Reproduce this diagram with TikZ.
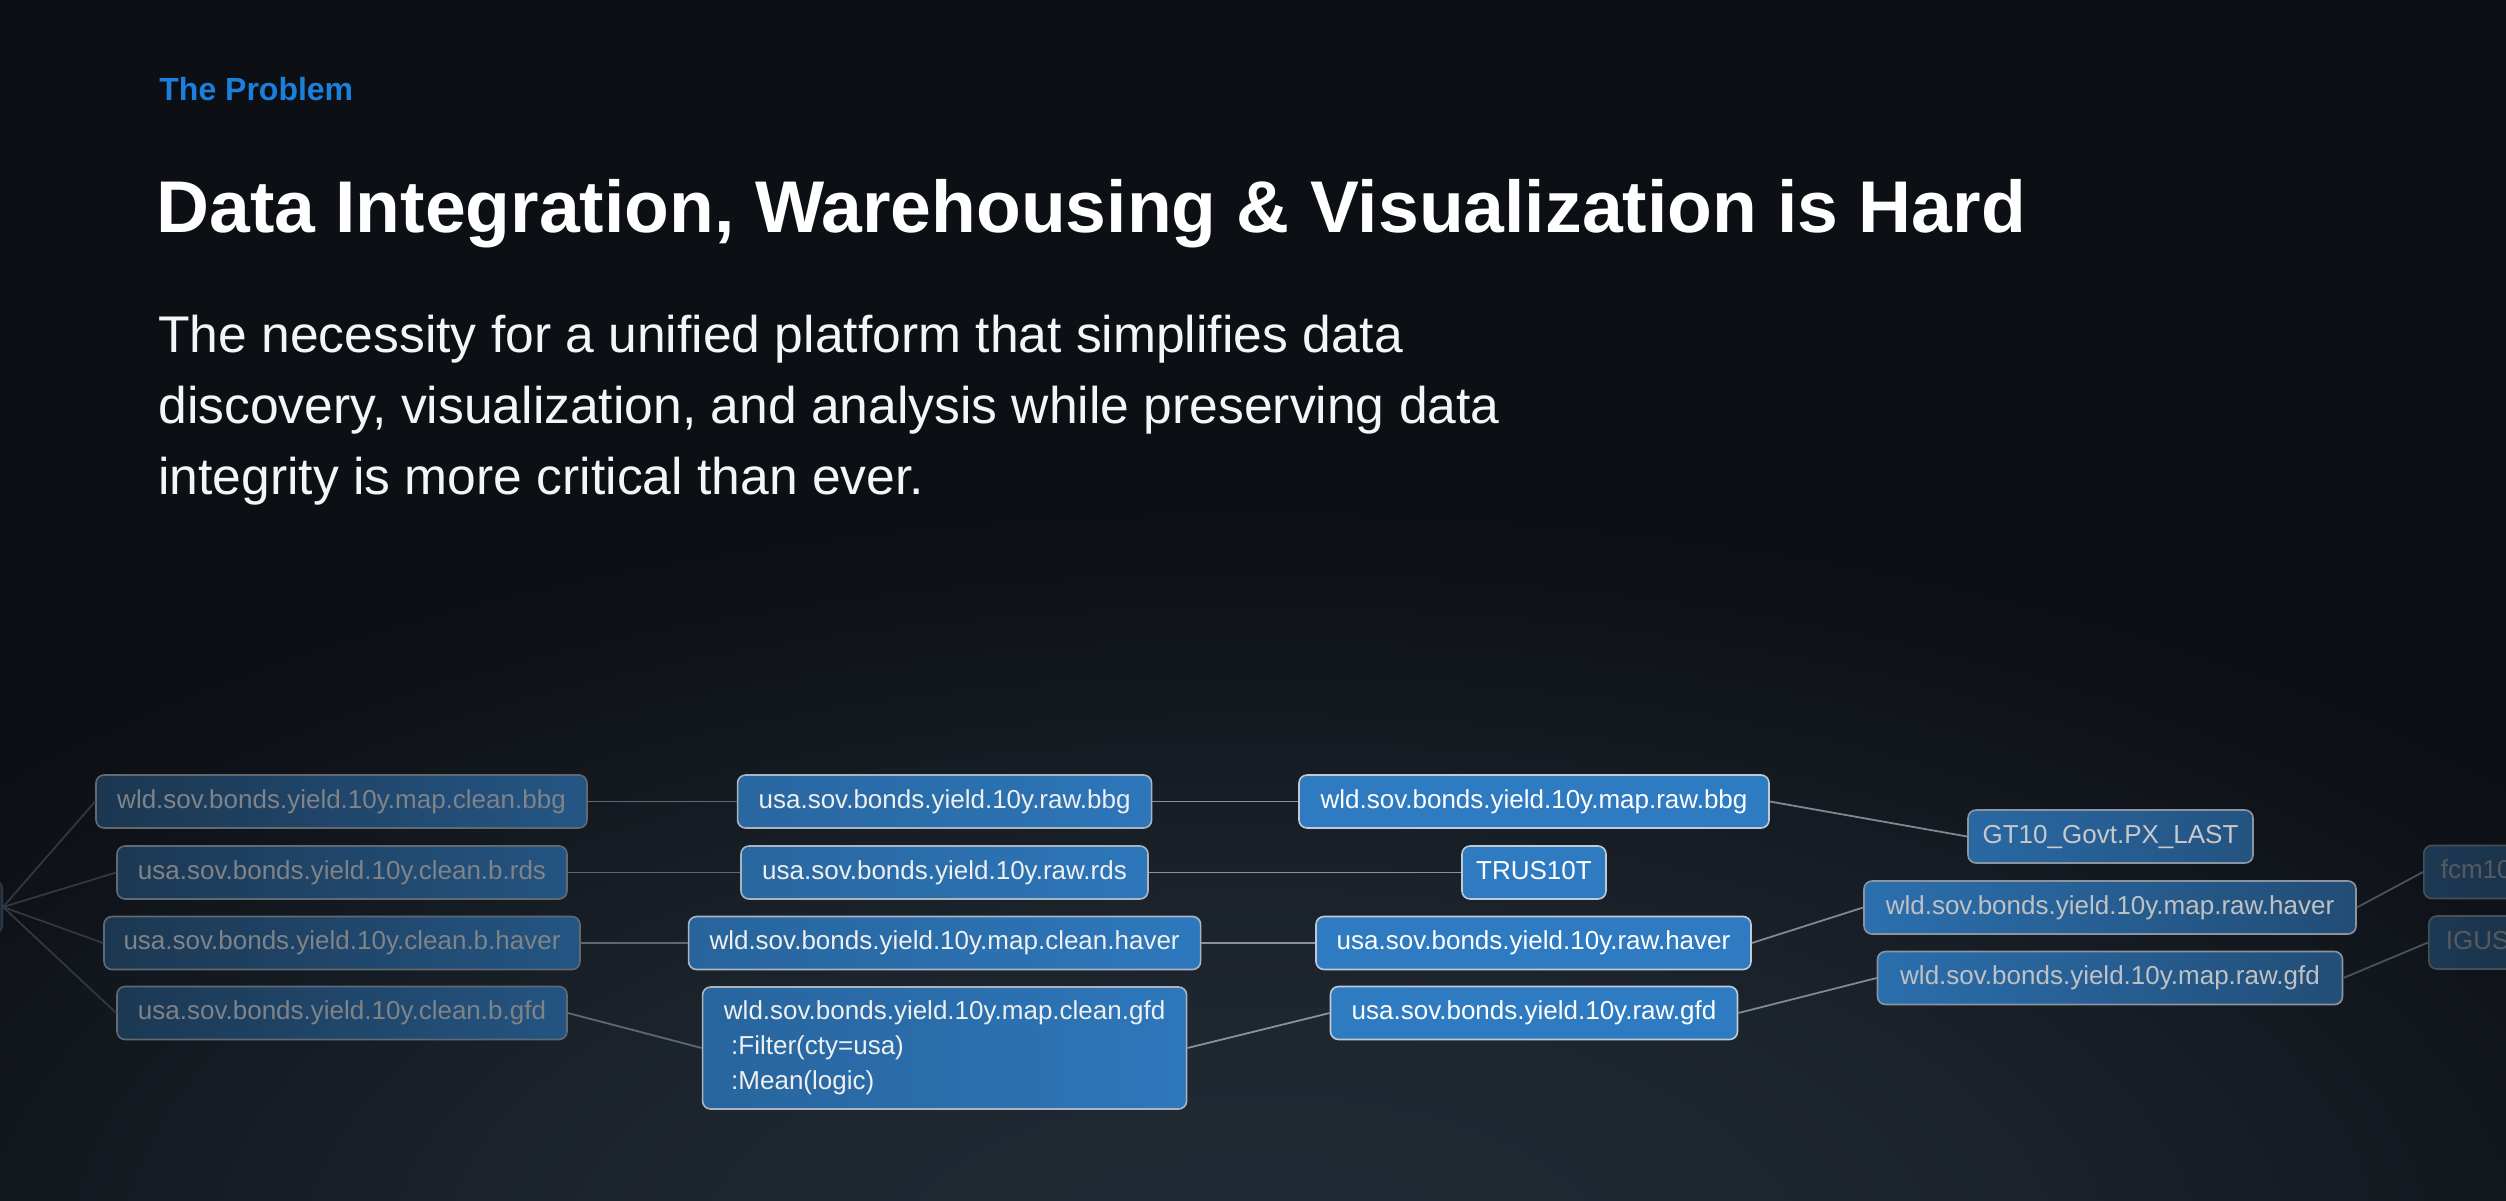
\documentclass[tikz,border=0pt]{standalone}
\usepackage{fontspec}
\setmainfont{Liberation Sans}
\definecolor{bgtop}{HTML}{0C0F14}
\definecolor{glow}{HTML}{212A34}
\definecolor{bgm}{HTML}{141A21}
\definecolor{nodeblue}{HTML}{2E7BC2}
\definecolor{nodeborder}{HTML}{BFCAD5}
\definecolor{edgegrey}{HTML}{8D98A4}
\definecolor{problemblue}{HTML}{1B7FDB}
\definecolor{paratext}{HTML}{F4F5F7}
\pgfdeclareradialshading{glowshade}{\pgfpoint{0bp}{0bp}}{%
  color(0bp)=(glow); color(6bp)=(glow!92!bgtop); color(12bp)=(glow!70!bgtop);
  color(18bp)=(glow!38!bgtop); color(22bp)=(glow!14!bgtop); color(25bp)=(bgtop); color(50bp)=(bgtop)}
\tikzset{
  box/.style={rounded corners=4pt, line width=0.8pt, minimum height=26.5pt,
    inner xsep=0pt, inner ysep=0pt, font=\fontsize{13}{17.5}\selectfont},
  oneline/.style={text height=9.6pt, text depth=2.8pt},
  shadebox/.style n args={4}{left color=nodeblue!#1!bgm, right color=nodeblue!#2!bgm,
    draw=nodeborder!#3!bgm, text=white!#4!bgm},
  link/.style={line width=0.9pt, draw=edgegrey!#1!bgm},
  headtext/.style={anchor=base west, inner sep=0pt},
  paraline/.style={headtext, text=paratext, font=\fontsize{25.8}{35.5}\selectfont},
}
\begin{document}
\begin{tikzpicture}[x=0.5pt,y=-0.5pt]
\useasboundingbox (0,0) rectangle (2506,1200);
\clip (0,0) rectangle (2506,1200);
\fill[bgtop] (0,0) rectangle (2506,1200);
\shade[shading=glowshade] (1250,1260) ellipse (1650 and 760);

% heading texts
\node[headtext, text=problemblue, font=\fontsize{16}{19}\selectfont\bfseries] (prob) at (159,100) {The Problem};
\node[headtext, text=white, font=\fontsize{36.65}{42}\selectfont\bfseries] (title) at (156,232.7) {Data Integration, Warehousing \& Visualization is Hard};
\node[paraline] (p1) at (158,352) {The necessity for a unified platform that simplifies data};
\node[paraline] (p2) at (158,423) {discovery, visualization, and analysis while preserving data};
\node[paraline] (p3) at (158,494) {integrity is more critical than ever.};

% partial node at left edge
\node[box, shadebox={15}{18}{18}{18}, minimum width=100pt, anchor=east] (L0) at (3,907) {};

% column A
\node[box, oneline, shadebox={29}{62}{45}{46}, minimum width=245.5pt] (A1) at (341.5,801.5) {wld.sov.bonds.yield.10y.map.clean.bbg};
\node[box, oneline, shadebox={31}{60}{45}{46}, minimum width=225pt] (A2) at (342,872.5) {usa.sov.bonds.yield.10y.clean.b.rds};
\node[box, oneline, shadebox={30}{61}{45}{46}, minimum width=238pt] (A3) at (342,943) {usa.sov.bonds.yield.10y.clean.b.haver};
\node[box, oneline, shadebox={31}{60}{45}{46}, minimum width=225pt] (A4) at (342,1013) {usa.sov.bonds.yield.10y.clean.b.gfd};

% column B
\node[box, oneline, shadebox={79}{95}{88}{93}, minimum width=207pt] (B1) at (944.6,801.5) {usa.sov.bonds.yield.10y.raw.bbg};
\node[box, oneline, shadebox={79}{95}{88}{93}, minimum width=203.5pt] (B2) at (944.5,872.5) {usa.sov.bonds.yield.10y.raw.rds};
\node[box, oneline, shadebox={76}{97}{88}{93}, minimum width=256pt] (B3) at (944.6,943) {wld.sov.bonds.yield.10y.map.clean.haver};
\node[box, shadebox={77}{96}{88}{93}, minimum width=242pt, minimum height=61pt, align=left] (B4) at (944.6,1048)
  {wld.sov.bonds.yield.10y.map.clean.gfd\\\hspace*{0.28em}:Filter(cty=usa)\\\hspace*{0.28em}:Mean(logic)};

% column C
\node[box, oneline, shadebox={100}{100}{100}{100}, minimum width=235pt] (C1) at (1534,801.5) {wld.sov.bonds.yield.10y.map.raw.bbg};
\node[box, oneline, shadebox={100}{100}{100}{100}, minimum width=72pt] (T) at (1534,872.5) {TRUS10T};
\node[box, oneline, shadebox={100}{100}{100}{100}, minimum width=217.5pt] (C3) at (1533.5,943) {usa.sov.bonds.yield.10y.raw.haver};
\node[box, oneline, shadebox={100}{100}{100}{100}, minimum width=203.5pt] (C4) at (1534,1013) {usa.sov.bonds.yield.10y.raw.gfd};

% column D
\node[box, oneline, shadebox={81}{59}{70}{76}, minimum width=142.5pt] (D1) at (2110.5,836.5) {GT10\_Govt.PX\_LAST};
\node[box, oneline, shadebox={88}{52}{70}{73}, minimum width=246pt] (D2) at (2110,907.5) {wld.sov.bonds.yield.10y.map.raw.haver};
\node[box, oneline, shadebox={87}{53}{70}{73}, minimum width=232.5pt] (D3) at (2110,978) {wld.sov.bonds.yield.10y.map.raw.gfd};

% column E (cut by the right edge)
\node[box, oneline, shadebox={32}{25}{30}{28}, inner xsep=8.5pt, anchor=west] (E1) at (2423,872) {fcm10\hspace{60pt}};
\node[box, oneline, shadebox={32}{25}{30}{28}, inner xsep=8.5pt, anchor=west] (E2) at (2428,942.5) {IGUS\hspace{60pt}};

% connectors
\draw[link=24] (L0.east) -- (A1.west);
\draw[link=24] (L0.east) -- (A2.west);
\draw[link=24] (L0.east) -- (A3.west);
\draw[link=24] (L0.east) -- (A4.west);
\draw[link=62] (A1.east) -- (B1.west);
\draw[link=62] (A2.east) -- (B2.west);
\draw[link=62] (A3.east) -- (B3.west);
\draw[link=62] (A4.east) -- (B4.west);
\draw[link=95] (B1.east) -- (C1.west);
\draw[link=95] (B2.east) -- (T.west);
\draw[link=95] (B3.east) -- (C3.west);
\draw[link=95] (B4.east) -- (C4.west);
\draw[link=88] (C1.east) -- (D1.west);
\draw[link=88] (C3.east) -- (D2.west);
\draw[link=88] (C4.east) -- (D3.west);
\draw[link=45] (D2.east) -- (E1.west);
\draw[link=45] (D3.east) -- (E2.west);
\end{tikzpicture}
\end{document}
